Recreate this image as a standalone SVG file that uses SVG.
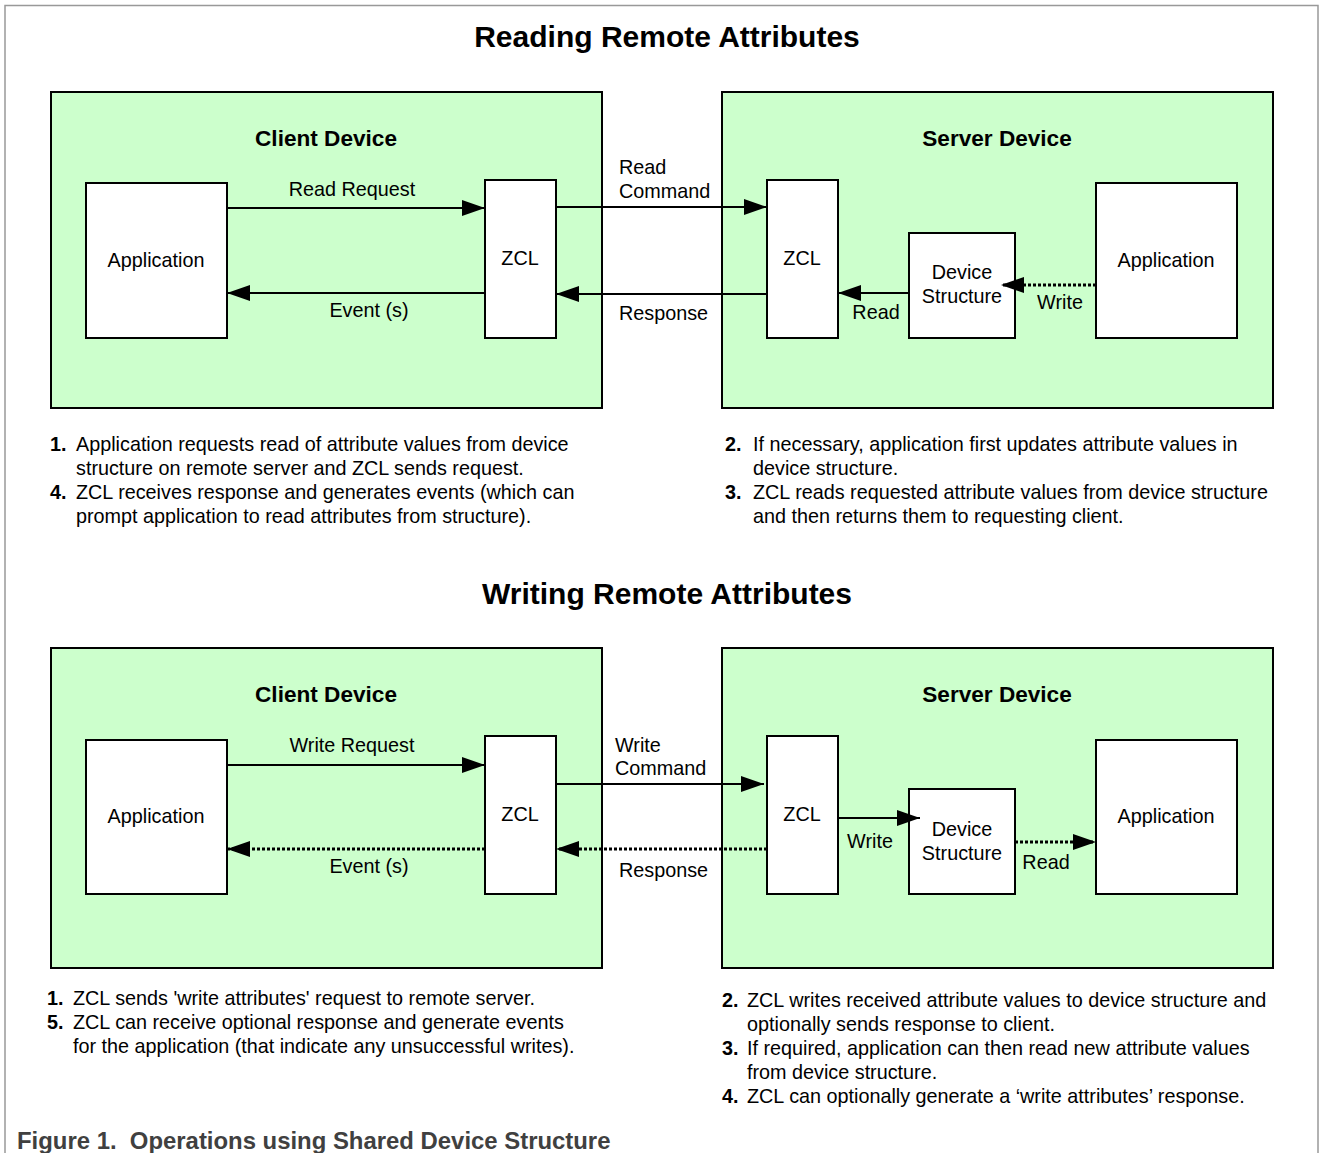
<svg xmlns="http://www.w3.org/2000/svg" width="1320" height="1153" viewBox="0 0 1320 1153">
<defs>
<marker id="ah" markerUnits="userSpaceOnUse" markerWidth="24" markerHeight="16" refX="23" refY="8" orient="auto">
<path d="M0,0 L23,8 L0,16 Z" fill="#000"/>
</marker>
<style>
text{font-family:"Liberation Sans",Arial,sans-serif;fill:#000}
.title{font-size:30px;font-weight:bold;text-anchor:middle}
.dev{font-size:22.6px;font-weight:bold;text-anchor:middle}
.lbl{font-size:19.8px}
.c{text-anchor:middle}
.note{font-size:19.8px}
.num{font-weight:bold}
.panel{fill:#ccffcc;stroke:#000;stroke-width:2}
.box{fill:#fff;stroke:#000;stroke-width:2}
.ln{fill:none;stroke:#000;stroke-width:2;marker-end:url(#ah)}
.dt{fill:none;stroke:#000;stroke-width:3;stroke-dasharray:3 2;marker-end:url(#ah)}
.cap{font-size:23.9px;font-weight:bold;fill:#404040}
</style>
</defs>
<rect width="1320" height="1153" fill="#fff"/>
<path d="M5,1153 V5.5 H1318 V1153" fill="none" stroke="#999" stroke-width="1.5"/>

<text class="title" x="667" y="47">Reading Remote Attributes</text>

<g id="client-read">
<rect class="panel" x="51" y="92" width="551" height="316"/>
<text class="dev" x="326" y="146">Client Device</text>
</g>
<g id="server-read">
<rect class="panel" x="722" y="92" width="551" height="316"/>
<text class="dev" x="997" y="146">Server Device</text>
</g>
<g id="client-app-read"><rect class="box" x="86" y="183" width="141" height="155"/><text class="lbl c" x="156" y="267">Application</text></g>
<g id="client-zcl-read"><rect class="box" x="485" y="180" width="71" height="158"/><text class="lbl c" x="520" y="265">ZCL</text></g>
<g id="server-zcl-read"><rect class="box" x="767" y="180" width="71" height="158"/><text class="lbl c" x="802" y="265">ZCL</text></g>
<g id="server-ds-read"><rect class="box" x="909" y="233" width="106" height="105"/><text class="lbl c" x="962" y="279">Device</text><text class="lbl c" x="962" y="303">Structure</text></g>
<g id="server-app-read"><rect class="box" x="1096" y="183" width="141" height="155"/><text class="lbl c" x="1166" y="267">Application</text></g>

<text class="title" x="667" y="604">Writing Remote Attributes</text>

<g id="client-write">
<rect class="panel" x="51" y="648" width="551" height="320"/>
<text class="dev" x="326" y="702">Client Device</text>
</g>
<g id="server-write">
<rect class="panel" x="722" y="648" width="551" height="320"/>
<text class="dev" x="997" y="702">Server Device</text>
</g>
<g id="client-app-write"><rect class="box" x="86" y="740" width="141" height="154"/><text class="lbl c" x="156" y="823">Application</text></g>
<g id="client-zcl-write"><rect class="box" x="485" y="736" width="71" height="158"/><text class="lbl c" x="520" y="821">ZCL</text></g>
<g id="server-zcl-write"><rect class="box" x="767" y="736" width="71" height="158"/><text class="lbl c" x="802" y="821">ZCL</text></g>
<g id="server-ds-write"><rect class="box" x="909" y="789" width="106" height="105"/><text class="lbl c" x="962" y="836">Device</text><text class="lbl c" x="962" y="860">Structure</text></g>
<g id="server-app-write"><rect class="box" x="1096" y="740" width="141" height="154"/><text class="lbl c" x="1166" y="823">Application</text></g>

<g id="connectors">
<path class="ln" d="M227,208 H485"/>
<path class="ln" d="M485,293 H227"/>
<path class="ln" d="M556,207 H767"/>
<path class="ln" d="M767,294 H556"/>
<path class="ln" d="M909,293 H838"/>
<path class="dt" d="M1096,285 H1001"/>
<path class="ln" d="M227,765 H485"/>
<path class="dt" d="M485,849 H227"/>
<path class="ln" d="M556,784 H764"/>
<path class="dt" d="M767,849 H556"/>
<path class="ln" d="M838,818 H920"/>
<path class="dt" d="M1015,842 H1096"/>
<text class="lbl c" x="352" y="196">Read Request</text>
<text class="lbl c" x="369" y="317">Event (s)</text>
<text class="lbl" x="619" y="174">Read</text>
<text class="lbl" x="619" y="198">Command</text>
<text class="lbl" x="619" y="320">Response</text>
<text class="lbl c" x="876" y="319">Read</text>
<text class="lbl c" x="1060" y="309">Write</text>
<text class="lbl c" x="352" y="752">Write Request</text>
<text class="lbl c" x="369" y="873">Event (s)</text>
<text class="lbl" x="615" y="752">Write</text>
<text class="lbl" x="615" y="775">Command</text>
<text class="lbl" x="619" y="877">Response</text>
<text class="lbl c" x="870" y="848">Write</text>
<text class="lbl c" x="1046" y="869">Read</text>
</g>

<g id="notes-read">
<text class="note num" x="50" y="451">1.</text><text class="note" x="76" y="451">Application requests read of attribute values from device</text>
<text class="note" x="76" y="475">structure on remote server and ZCL sends request.</text>
<text class="note num" x="50" y="499">4.</text><text class="note" x="76" y="499">ZCL receives response and generates events (which can</text>
<text class="note" x="76" y="523">prompt application to read attributes from structure).</text>
<text class="note num" x="725" y="451">2.</text><text class="note" x="753" y="451">If necessary, application first updates attribute values in</text>
<text class="note" x="753" y="475">device structure.</text>
<text class="note num" x="725" y="499">3.</text><text class="note" x="753" y="499">ZCL reads requested attribute values from device structure</text>
<text class="note" x="753" y="523">and then returns them to requesting client.</text>
</g>
<g id="notes-write">
<text class="note num" x="47" y="1005">1.</text><text class="note" x="73" y="1005">ZCL sends 'write attributes' request to remote server.</text>
<text class="note num" x="47" y="1029">5.</text><text class="note" x="73" y="1029">ZCL can receive optional response and generate events</text>
<text class="note" x="73" y="1053">for the application (that indicate any unsuccessful writes).</text>
<text class="note num" x="722" y="1007">2.</text><text class="note" x="747" y="1007">ZCL writes received attribute values to device structure and</text>
<text class="note" x="747" y="1031">optionally sends response to client.</text>
<text class="note num" x="722" y="1055">3.</text><text class="note" x="747" y="1055">If required, application can then read new attribute values</text>
<text class="note" x="747" y="1079">from device structure.</text>
<text class="note num" x="722" y="1103">4.</text><text class="note" x="747" y="1103">ZCL can optionally generate a ‘write attributes’ response.</text>
</g>

<text class="cap" x="17" y="1149" xml:space="preserve">Figure 1.  Operations using Shared Device Structure</text>
</svg>
